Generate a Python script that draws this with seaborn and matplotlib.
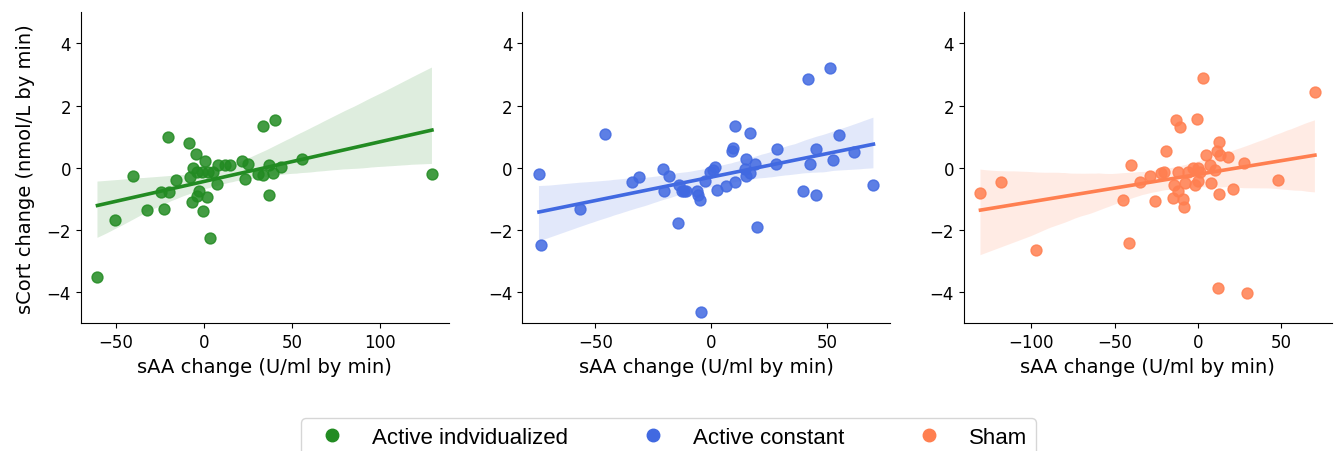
import matplotlib
matplotlib.use("Agg")
import matplotlib.pyplot as plt
from matplotlib.lines import Line2D
from matplotlib.ticker import MultipleLocator
import seaborn as sns
import numpy as np

# ---- data ----
groups = ["Active indvidualized", "Active constant", "Sham"]
colors = ["forestgreen", "royalblue", "coral"]

x_ind = [-60.4, -50.4, -40.2, -32.5, -22.8, -24.3, -19.6, -20.6, -15.7, -8.3,
         -7.0, -7.9, -4.7, -6.0, -4.2, -2.6, -3.8, -0.4, 0.6, 1.5,
         3.4, -1.3, 2.5, 5.3, 7.2, 8.1, 11.9, 14.7, 21.7, 24.7,
         23.4, 30.8, 33.6, 33.6, 40.2, 36.8, 38.9, 37.0, 43.4, 55.7,
         129.2]
y_ind = [-3.52, -1.69, -0.25, -1.35, -1.32, -0.78, -0.78, 0.99, -0.39, 0.80,
         -1.10, -0.28, 0.43, 0.00, -0.14, -0.76, -0.91, -1.39, 0.21, -0.94,
         -2.25, -0.14, -0.14, -0.14, -0.51, 0.08, 0.08, 0.08, 0.21, 0.13,
         -0.35, -0.19, -0.23, 1.36, 1.54, 0.08, -0.17, -0.89, 0.02, 0.29,
         -0.21]

x_con = [-74.4, -73.6, -56.8, -45.7, -34.3, -31.3, -20.8, -18.1, -20.4, -14.5,
         -13.8, -12.6, -10.9, -11.9, -6.3, -5.9, -4.7, -4.3, -2.7, -0.6,
         0.6, 1.6, 2.7, 6.5, 10.3, 8.9, 9.3, 10.3, 14.9, 14.4,
         14.9, 16.7, 16.7, 19.0, 20.0, 28.0, 28.6, 39.5, 41.7, 42.7,
         45.1, 45.5, 51.3, 52.7, 55.2, 61.8, 70.1]
y_con = [-0.19, -2.47, -1.32, 1.08, -0.45, -0.28, -0.04, -0.25, -0.75, -1.76,
         -0.54, -0.73, -0.76, -0.76, -0.73, -0.89, -1.05, -4.63, -0.43, -0.14,
         -0.08, 0.02, -0.70, -0.60, -0.46, 0.54, 0.65, 1.33, 0.29, -0.03,
         -0.25, -0.16, 1.11, 0.12, -1.91, 0.13, 0.59, -0.73, 2.86, 0.13,
         0.59, -0.86, 3.22, 0.26, 1.06, 0.50, -0.55]

x_sham = [-130.6, -118.0, -97.0, -45.2, -41.6, -40.4, -34.8, -29.0, -25.8, -22.0,
          -20.4, -19.2, -15.0, -14.0, -13.0, -12.0, -11.6, -10.4, -8.8, -8.4,
          -7.6, -5.6, -2.6, -1.6, -0.4, 0.0, 0.4, 1.4, 3.0, 4.8,
          7.4, 8.0, 10.4, 11.6, 12.8, 12.8, 13.4, 12.4, 18.0, 21.4,
          28.0, 29.4, 48.2, 70.4]
y_sham = [-0.81, -0.47, -2.63, -1.05, -2.43, 0.10, -0.46, -0.25, -1.07, -0.16,
          -0.12, 0.55, -0.98, -0.54, 1.54, -0.14, -0.73, 1.30, -1.00, -1.26,
          -0.48, -0.14, -0.01, -0.54, 1.56, -0.44, -0.01, -0.14, 2.88, 0.40,
          0.08, -0.49, -0.06, 0.53, 0.83, -0.84, 0.40, -3.85, 0.36, -0.68,
          0.16, -4.01, -0.39, 2.45]

xs = [x_ind, x_con, x_sham]
ys = [y_ind, y_con, y_sham]
y_ticks = [-4, -2, 0, 2, 4]

xlabel = "sAA change (U/ml by min)"
ylabel = "sCort change (nmol/L by min)"

# ---- plot ----
plt.rcParams["font.family"] = ["DejaVu Sans"]

fig, axes = plt.subplots(1, 3, figsize=(13.37, 4.52), dpi=100)
fig.subplots_adjust(left=0.0604, right=0.996, top=0.9706, bottom=0.2825, wspace=0.2)

for ax, x, y, c in zip(axes, xs, ys, colors):
    sns.regplot(x=np.array(x), y=np.array(y), ax=ax, color=c, seed=0,
                scatter_kws={"s": 62, "alpha": 0.85},
                line_kws={"linewidth": 2.6})
    ax.set_ylim(-5, 5)
    ax.set_yticks(y_ticks)
    ax.xaxis.set_major_locator(MultipleLocator(50))
    ax.set_xlabel(xlabel, fontsize=14)
    ax.tick_params(labelsize=12)
    sns.despine(ax=ax)

axes[0].set_ylabel(ylabel, fontsize=14, labelpad=8)

handles = [Line2D([], [], marker="o", linestyle="", color=c, markersize=9)
           for c in colors]
fig.legend(handles, groups, loc="upper center", ncol=3,
           bbox_to_anchor=(0.5, 1 - 408 / 452),
           prop={"family": "Liberation Sans", "size": 16},
           columnspacing=2.8, frameon=True)

fig.savefig("out.png", dpi=100)
